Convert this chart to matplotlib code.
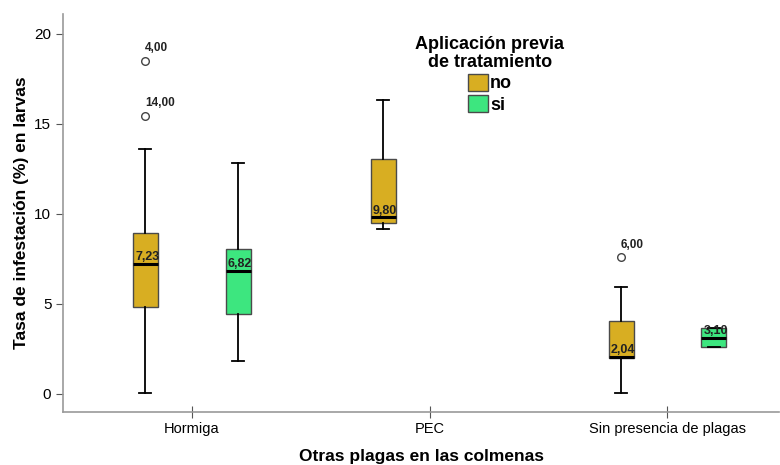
import matplotlib

matplotlib.use("Agg")
import matplotlib.pyplot as plt
from matplotlib.patches import Patch

plt.rcParams["font.family"] = ["Liberation Sans", "DejaVu Sans"]

# categories and groups
categories = ["Hormiga", "PEC", "Sin presencia de plagas"]
groups = ["no", "si"]
colors = {"no": "#D8AE22", "si": "#3DE67F"}

# box statistics: (category, group)
box_cat = [0, 0, 1, 2, 2]
box_grp = ["no", "si", "no", "no", "si"]
whislo = [0.06, 1.83, 9.15, 0.05, 2.60]
q1 = [4.83, 4.44, 9.50, 2.00, 2.60]
med = [7.23, 6.82, 9.80, 2.04, 3.10]
q3 = [8.94, 8.06, 13.05, 4.06, 3.67]
whishi = [13.6, 12.8, 16.3, 5.94, 3.67]
fliers = [[18.5, 15.45], [], [], [7.6], []]
flier_labels = [["4,00", "14,00"], [], [], ["6,00"], []]
median_labels = ["7,23", "6,82", "9,80", "2,04", "3,10"]

offset = {"no": -0.195, "si": 0.195}
width = 0.105

fig, ax = plt.subplots(figsize=(7.8, 4.65), dpi=100)
fig.subplots_adjust(left=0.081, right=0.999, bottom=0.114, top=0.97)

for i in range(len(box_cat)):
    pos = box_cat[i] + offset[box_grp[i]]
    stats = [dict(whislo=whislo[i], q1=q1[i], med=med[i], q3=q3[i],
                  whishi=whishi[i], fliers=fliers[i])]
    ax.bxp(stats, positions=[pos], widths=width, patch_artist=True,
           showcaps=True,
           boxprops=dict(facecolor=colors[box_grp[i]], edgecolor="#4a4a4a", lw=1.0),
           medianprops=dict(color="black", lw=2.2),
           whiskerprops=dict(color="black", lw=1.3),
           capprops=dict(color="black", lw=1.3),
           flierprops=dict(marker="o", mfc="white", mec="#444444", ms=5.5, mew=1.0))
    ax.text(pos - width / 2 + 0.01, med[i] + 0.05, median_labels[i], fontsize=9,
            fontweight="bold", ha="left", va="bottom", color="#222222")
    for v, lab in zip(fliers[i], flier_labels[i]):
        ax.text(pos + 0.0, v + 0.35, lab, fontsize=8.5, fontweight="bold",
                ha="left", va="bottom", color="#222222")

ax.set_xlim(-0.54, 2.47)
ax.set_ylim(-1.0, 21.1)
ax.set_xticks(range(len(categories)))
ax.set_xticklabels(categories, fontsize=10.5)
ax.set_yticks([0, 5, 10, 15, 20])
ax.tick_params(axis="y", labelsize=11, colors="#555555", labelcolor="black", length=5)
ax.tick_params(axis="x", direction="inout", length=8, colors="#555555", labelcolor="black")
for s in ["top", "right"]:
    ax.spines[s].set_visible(False)
for s in ["left", "bottom"]:
    ax.spines[s].set_color("#999999")
    ax.spines[s].set_linewidth(1.2)

ax.set_ylabel("Tasa de infestación (%) en larvas", fontsize=12.5, fontweight="bold")
ax.set_xlabel("Otras plagas en las colmenas", fontsize=12.5, fontweight="bold", labelpad=9)

handles = [Patch(facecolor=colors[g], edgecolor="#4a4a4a", label=g) for g in groups]
leg = ax.legend(handles=handles, title="Aplicación previa\nde tratamiento",
                loc="upper center", bbox_to_anchor=(0.596, 0.985), frameon=False,
                prop=dict(size=13, weight="bold"), handlelength=1.1, handleheight=1.1,
                handletextpad=0.15, labelspacing=0.15, alignment="center")
leg.get_title().set_fontweight("bold")
leg.get_title().set_fontsize(13)
leg.get_title().set_multialignment("center")
leg.get_title().set_linespacing(1.05)

fig.savefig("out.png", dpi=100)
